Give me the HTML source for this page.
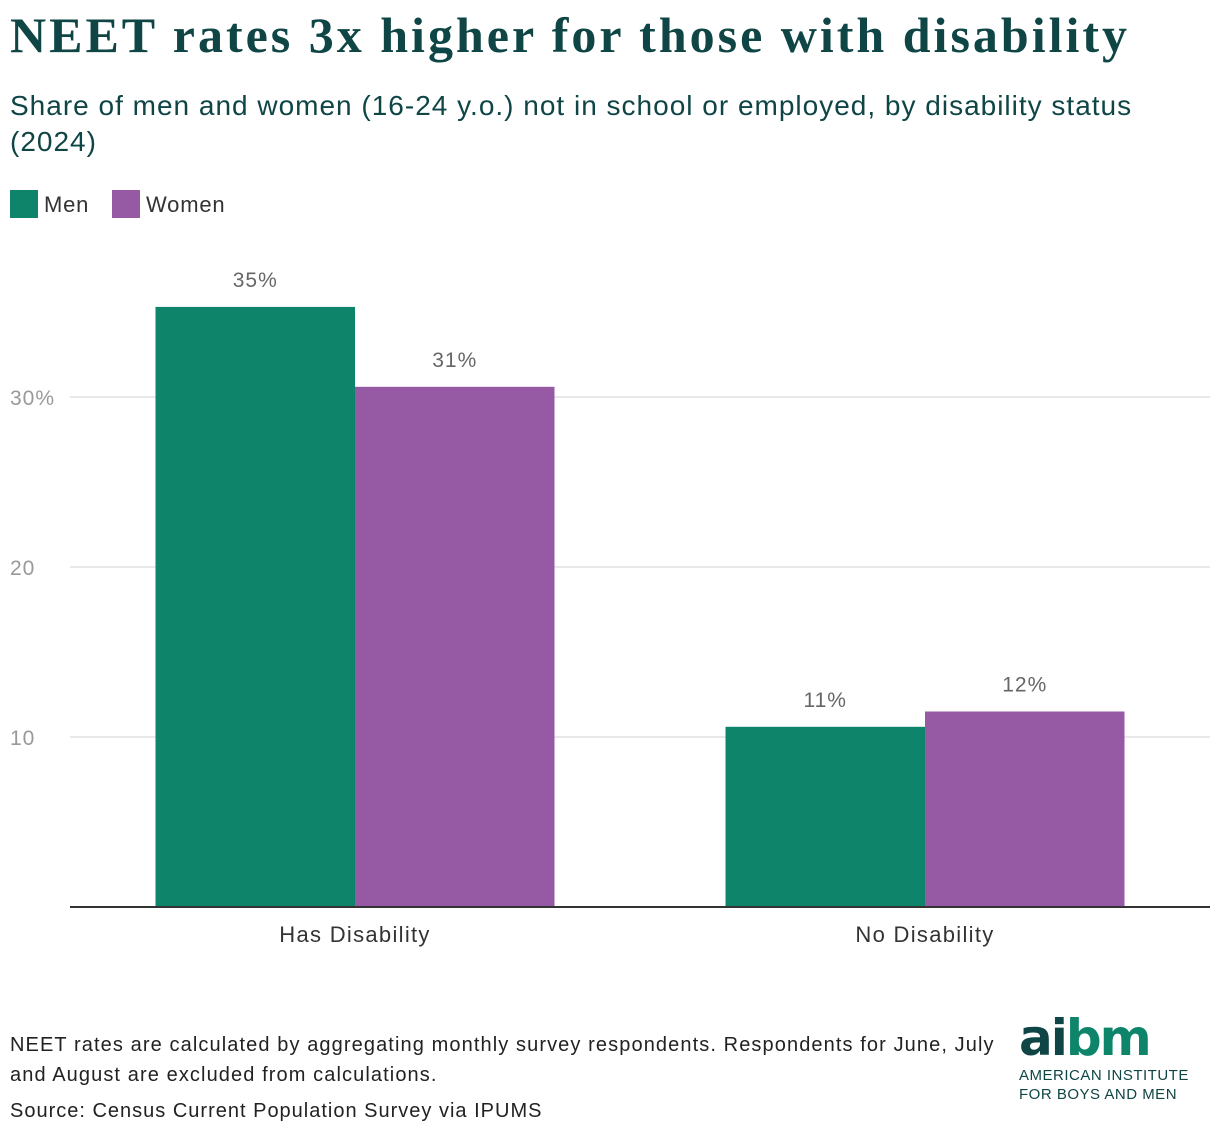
<!DOCTYPE html>
<html><head><meta charset="utf-8">
<style>
body{margin:0;width:1220px;height:1140px;background:#fff;font-family:"Liberation Sans",sans-serif;position:relative;overflow:hidden}
.t{position:absolute;white-space:nowrap}
</style></head><body>
<div class="t" style="left:10px;top:6px;font-family:'Liberation Serif',serif;font-weight:bold;font-size:50px;letter-spacing:3px;color:#0f4545">NEET rates 3x higher for those with disability</div>
<div class="t" style="left:10px;top:88px;font-size:28px;letter-spacing:1px;line-height:36px;color:#0f4545">Share of men and women (16-24 y.o.) not in school or employed, by disability status<br>(2024)</div>
<div class="t" style="left:10px;top:190px;font-size:22px;letter-spacing:0.8px;color:#333"><span style="display:inline-block;width:28px;height:28px;background:#0e856a;vertical-align:-6px;margin-right:6px"></span>Men</div>
<div class="t" style="left:112px;top:190px;font-size:22px;letter-spacing:0.8px;color:#333"><span style="display:inline-block;width:28px;height:28px;background:#9659a4;vertical-align:-6px;margin-right:6px"></span>Women</div>
<svg id="chart" width="1220" height="1000" style="position:absolute;left:0;top:0"></svg>
<div class="t" style="left:10px;top:1030px;font-size:20px;letter-spacing:1.1px;line-height:30px;color:#222">NEET rates are calculated by aggregating monthly survey respondents. Respondents for June, July<br>and August are excluded from calculations.</div>
<div class="t" style="left:10px;top:1100px;font-size:20px;letter-spacing:1px;color:#222">Source: Census Current Population Survey via IPUMS</div>
<div class="t" style="left:1019px;top:1010px">
<div style="font-family:'DejaVu Sans',sans-serif;font-weight:bold;font-size:50px;line-height:56px;letter-spacing:-2px"><span style="color:#0f4545">ai</span><span style="color:#0e856a">bm</span></div>
<div style="font-size:15px;line-height:19px;color:#0f4545;letter-spacing:0.5px">AMERICAN INSTITUTE<br>FOR BOYS AND MEN</div>
</div>
<script>
const categories=["Has Disability","No Disability"];
const menValues=[35.3,10.6];
const womenValues=[30.6,11.5];
const menLabels=["35%","11%"];
const womenLabels=["31%","12%"];
const tickValues=[10,20,30];
const tickLabels=["10","20","30%"];
const svg=document.getElementById('chart');
const NS="http://www.w3.org/2000/svg";
const x0=70,x1=1210,y0=907,pxPerUnit=17;
const y=v=>y0-v*pxPerUnit;
const band=(x1-x0)/categories.length;
const barW=band*0.35;
function mk(tag,attrs){const e=document.createElementNS(NS,tag);for(const k in attrs)e.setAttribute(k,attrs[k]);svg.appendChild(e);return e;}
tickValues.forEach((v,i)=>{
 const l=mk('line',{x1:x0,x2:x1,y1:y(v),y2:y(v),stroke:'#e0e0e0','stroke-width':1.5});
 
 
 const t=mk('text',{x:10,y:y(v)+8,'font-size':21,'letter-spacing':1,fill:'#999','font-family':'Liberation Sans, sans-serif'});
 t.textContent=tickLabels[i];
 
 
});
categories.forEach((c,i)=>{
 const cx=x0+band*(i+0.5);
 [[menValues,menLabels,'#0e856a',cx-barW,'men'],[womenValues,womenLabels,'#9659a4',cx,'women']].forEach(([vals,labs,col,bx,s])=>{
  const r=mk('rect',{x:bx,y:y(vals[i]),width:barW,height:y0-y(vals[i]),fill:col});
  
  
  const t=mk('text',{x:bx+barW/2,y:y(vals[i])-20,'font-size':21,'letter-spacing':1,fill:'#666','text-anchor':'middle','font-family':'Liberation Sans, sans-serif'});
  t.textContent=labs[i];
  
  
 });
 const t=mk('text',{x:cx,y:942,'font-size':22,'letter-spacing':1.3,fill:'#333','text-anchor':'middle','font-family':'Liberation Sans, sans-serif'});
 t.textContent=c;
 
 
});
const b=mk('line',{x1:x0,x2:x1,y1:y0,y2:y0,stroke:'#333','stroke-width':2});


</script>
</body></html>
